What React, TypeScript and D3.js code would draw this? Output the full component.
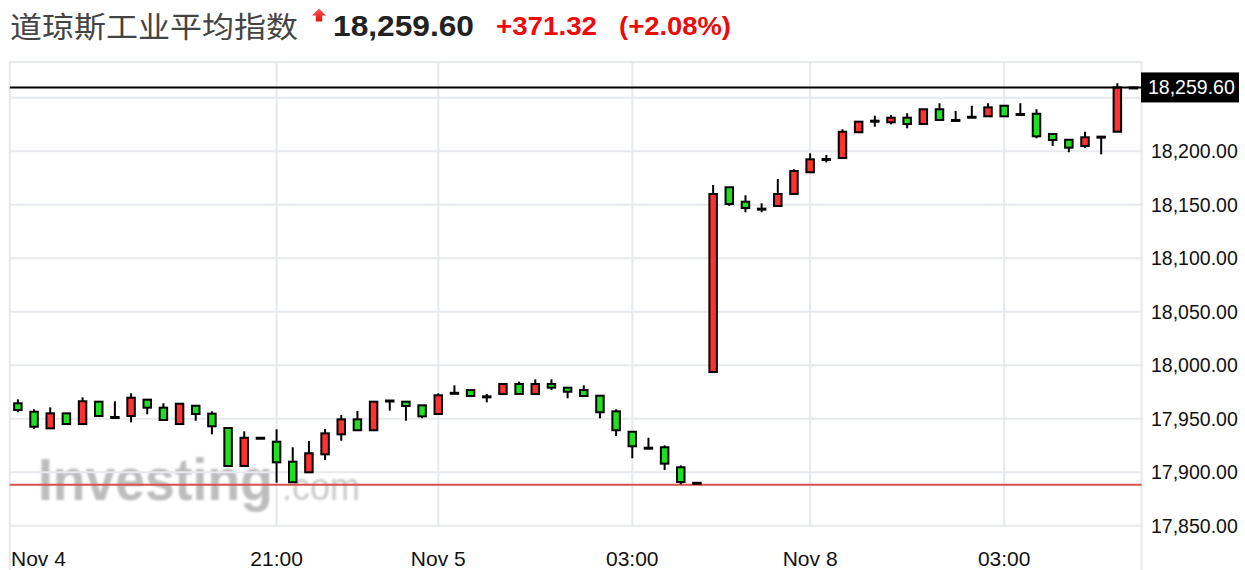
import React from "react";
import * as d3 from "d3";

// ---- data (15-min candles, index based) ----
const opens = [
  17964.4, 17956.5, 17941.0, 17955.0, 17945.0, 17965.9, 17951.6, 17952.5, 17967.8, 17960.3,
  17945.0, 17962.1, 17954.7, 17941.3, 17905.8, 17932.2, 17928.5, 17909.8, 17899.9, 17916.7,
  17935.4, 17949.4, 17939.2, 17967.0, 17965.9, 17962.5, 17954.4, 17974.2, 17976.8, 17970.9,
  17973.1, 17982.4, 17973.1, 17982.4, 17979.0, 17976.8, 17971.5, 17956.9, 17937.8, 17922.9,
  17923.3, 17904.6, 17890.1, 17993.6, 18166.3, 18152.8, 18146.3, 18148.8, 18160.0, 18180.3,
  18192.7, 18193.6, 18217.7, 18228.5, 18227.0, 18231.3, 18225.4, 18239.2, 18229.2, 18232.2,
  18232.6, 18242.5, 18234.8, 18235.0, 18216.1, 18210.7, 18204.9, 18213.6, 18218.2, 18259.6,
];
const highs = [
  17968.1, 17958.8, 17960.6, 17955.5, 17970.0, 17966.0, 17966.3, 17973.7, 17968.0, 17964.4,
  17964.0, 17962.1, 17956.9, 17941.3, 17938.2, 17932.2, 17940.1, 17923.3, 17929.2, 17940.4,
  17953.5, 17957.2, 17965.9, 17967.5, 17965.9, 17962.5, 17973.7, 17981.2, 17976.8, 17973.1,
  17982.4, 17984.6, 17986.8, 17986.8, 17979.0, 17981.2, 17971.5, 17958.8, 17937.8, 17932.2,
  17925.1, 17906.4, 17890.1, 18168.4, 18166.3, 18158.8, 18151.3, 18174.0, 18183.1, 18198.0,
  18196.4, 18220.5, 18227.6, 18233.2, 18233.8, 18235.4, 18239.2, 18244.8, 18237.6, 18242.5,
  18244.8, 18242.5, 18244.8, 18239.2, 18216.1, 18210.7, 18218.2, 18213.6, 18263.5, 18259.6,
];
const lows = [
  17956.0, 17940.6, 17941.0, 17944.5, 17945.0, 17952.5, 17951.0, 17946.6, 17954.1, 17948.8,
  17945.0, 17948.1, 17935.4, 17905.8, 17905.8, 17932.2, 17890.2, 17890.6, 17899.9, 17911.4,
  17929.4, 17939.2, 17939.2, 17957.5, 17948.1, 17950.4, 17954.4, 17974.0, 17971.2, 17965.3,
  17973.1, 17973.1, 17973.1, 17976.8, 17969.1, 17971.2, 17950.4, 17933.8, 17913.0, 17922.9,
  17902.0, 17888.7, 17890.1, 17993.6, 18148.8, 18142.9, 18142.9, 18148.8, 18160.0, 18180.3,
  18189.6, 18193.6, 18217.7, 18222.9, 18225.1, 18221.4, 18225.4, 18229.2, 18229.2, 18232.2,
  18232.6, 18232.6, 18234.8, 18212.1, 18204.9, 18199.0, 18203.0, 18197.1, 18218.2, 18259.6,
];
const closes = [
  17958.1, 17942.5, 17955.0, 17945.0, 17966.3, 17952.5, 17951.6, 17969.6, 17960.3, 17948.8,
  17964.0, 17954.4, 17942.9, 17905.8, 17932.2, 17932.2, 17909.2, 17890.6, 17917.7, 17936.3,
  17949.4, 17939.2, 17965.9, 17966.6, 17961.9, 17952.2, 17971.9, 17974.2, 17971.2, 17970.9,
  17982.4, 17973.1, 17982.4, 17979.0, 17975.2, 17971.2, 17956.0, 17939.2, 17924.2, 17922.9,
  17908.0, 17890.8, 17890.1, 18160.0, 18150.7, 18146.9, 18146.3, 18160.0, 18181.5, 18192.4,
  18192.7, 18218.2, 18227.6, 18228.5, 18231.3, 18225.4, 18239.2, 18229.2, 18229.2, 18232.2,
  18241.0, 18232.6, 18234.8, 18213.9, 18210.5, 18203.3, 18213.0, 18213.6, 18259.6, 18259.6,
];

const lastPrice = 18259.6;
const prevClose = 17888.28;
const yTicks = [17850, 17900, 17950, 18000, 18050, 18100, 18150, 18200, 18250];
const xTickIndex = [16, 26, 38, 49, 61];
const xTickLabels = ["21:00", "Nov 5", "03:00", "Nov 8", "03:00"];
const firstLabel = "Nov 4";

const titleName = "道琼斯工业平均指数";
const titlePrice = "18,259.60";
const titleChange = "+371.32";
const titlePct = "(+2.08%)";

const fmt = d3.format(",.2f");

export default function App() {
  const W = 1245;
  const H = 570;
  const left = 9.8;
  const right = 1141.6;
  const top = 62;
  const gridBottom = 526;

  const x = d3.scaleLinear().domain([-0.5, opens.length - 0.5]).range([left, right]);
  const y = d3.scaleLinear().domain([17850, 18250]).range([525.7, 97.7]);

  const gridColor = "#e6e9ee";
  const red = "#ff3131";
  const green = "#1fe01f";
  const bodyW = 7.5;
  const numFont = "'Liberation Sans', Arial, Helvetica, sans-serif";

  return (
    <svg
      width={W}
      height={H}
      style={{ position: "absolute", left: 0, top: 0, background: "#fff" }}
    >
      <defs>
        <filter id="wmblur" x="-5%" y="-20%" width="110%" height="140%">
          <feGaussianBlur stdDeviation="0.9" />
        </filter>
        <linearGradient id="arrowGrad" x1="0" y1="0" x2="0" y2="1">
          <stop offset="0" stopColor="#ff5a5a" />
          <stop offset="1" stopColor="#e01010" />
        </linearGradient>
      </defs>

      {/* title */}
      <text
        x={10}
        y={25}
        dominantBaseline="central"
        fontFamily="'Noto Sans CJK SC', sans-serif"
        fontSize={29}
        fill="#444"
        textLength={288}
        lengthAdjust="spacingAndGlyphs"
      >
        {titleName}
      </text>
      <path d="M319,8.5 L326,15.5 L322.2,15.5 L322.2,21.5 L315.8,21.5 L315.8,15.5 L312,15.5 Z" fill="url(#arrowGrad)" />
      <text
        x={333}
        y={25}
        dominantBaseline="central"
        fontFamily={numFont}
        fontWeight="bold"
        fontSize={30}
        fill="#222"
        textLength={141}
        lengthAdjust="spacingAndGlyphs"
      >
        {titlePrice}
      </text>
      <text
        x={496}
        y={26}
        dominantBaseline="central"
        fontFamily={numFont}
        fontWeight="bold"
        fontSize={26}
        fill="#ee0a0a"
        textLength={101}
        lengthAdjust="spacingAndGlyphs"
      >
        {titleChange}
      </text>
      <text
        x={619}
        y={26}
        dominantBaseline="central"
        fontFamily={numFont}
        fontWeight="bold"
        fontSize={26}
        fill="#ee0a0a"
        textLength={112}
        lengthAdjust="spacingAndGlyphs"
      >
        {titlePct}
      </text>

      {/* watermark */}
      <g filter="url(#wmblur)">
        <text
          transform="translate(38,500) scale(1,1.12)"
          fontFamily={numFont}
          fontWeight="bold"
          fontSize={53.5}
          fill="#bdbdbd"
        >
          Investing
        </text>
        <text
          transform="translate(282,500) scale(1,1.1)"
          fontFamily={numFont}
          fontSize={36}
          fill="#c9c9c9"
        >
          .com
        </text>
      </g>

      {/* frame */}
      <line x1={left} x2={right} y1={top} y2={top} stroke={gridColor} strokeWidth={2} />
      <line x1={left} x2={left} y1={top} y2={H} stroke={gridColor} strokeWidth={2} />
      <line x1={right} x2={right} y1={top} y2={H} stroke={gridColor} strokeWidth={2} />

      {/* horizontal grid */}
      {yTicks.map((t) => (
        <line key={"h" + t} x1={left} x2={right} y1={y(t)} y2={y(t)} stroke={gridColor} strokeWidth={2} />
      ))}
      {/* vertical grid */}
      {xTickIndex.map((i) => (
        <line key={"v" + i} x1={x(i)} x2={x(i)} y1={top} y2={gridBottom} stroke={gridColor} strokeWidth={2} />
      ))}

      {/* previous close line */}
      <line x1={left} x2={right} y1={y(prevClose)} y2={y(prevClose)} stroke="#d9504c" strokeWidth={2} />

      {/* candles */}
      {opens.map((o, i) => {
        const c = closes[i];
        const cx = x(i);
        const yTop = y(Math.max(o, c));
        const yBot = y(Math.min(o, c));
        const h = Math.max(yBot - yTop, 1);
        const fill = c > o ? red : c < o ? green : "#000";
        return (
          <g key={"c" + i}>
            <line x1={cx} x2={cx} y1={y(highs[i])} y2={y(lows[i])} stroke="#000" strokeWidth={2} />
            <rect x={cx - bodyW / 2} y={yTop} width={bodyW} height={h} fill={fill} stroke="#000" strokeWidth={2} />
          </g>
        );
      })}

      {/* last price line */}
      <line x1={left} x2={right} y1={y(lastPrice)} y2={y(lastPrice)} stroke="#000" strokeWidth={2} />

      {/* right axis labels */}
      {yTicks
        .filter((t) => t < 18250)
        .map((t) => (
          <text
            key={"yl" + t}
            x={1151}
            y={y(t)}
            dominantBaseline="central"
            fontFamily={numFont}
            fontSize={19.5}
            fill="#111"
          >
            {fmt(t)}
          </text>
        ))}

      {/* last price box */}
      <rect x={1141} y={y(lastPrice) - 15} width={98} height={30} fill="#000" />
      <text
        x={1148}
        y={y(lastPrice)}
        dominantBaseline="central"
        fontFamily={numFont}
        fontSize={19.5}
        fill="#fff"
      >
        {fmt(lastPrice)}
      </text>

      {/* bottom axis labels */}
      <text x={11} y={566} fontFamily={numFont} fontSize={21} fill="#111">
        {firstLabel}
      </text>
      {xTickIndex.map((i, k) => (
        <text key={"xl" + i} x={x(i)} y={566} textAnchor="middle" fontFamily={numFont} fontSize={21} fill="#111">
          {xTickLabels[k]}
        </text>
      ))}
    </svg>
  );
}
